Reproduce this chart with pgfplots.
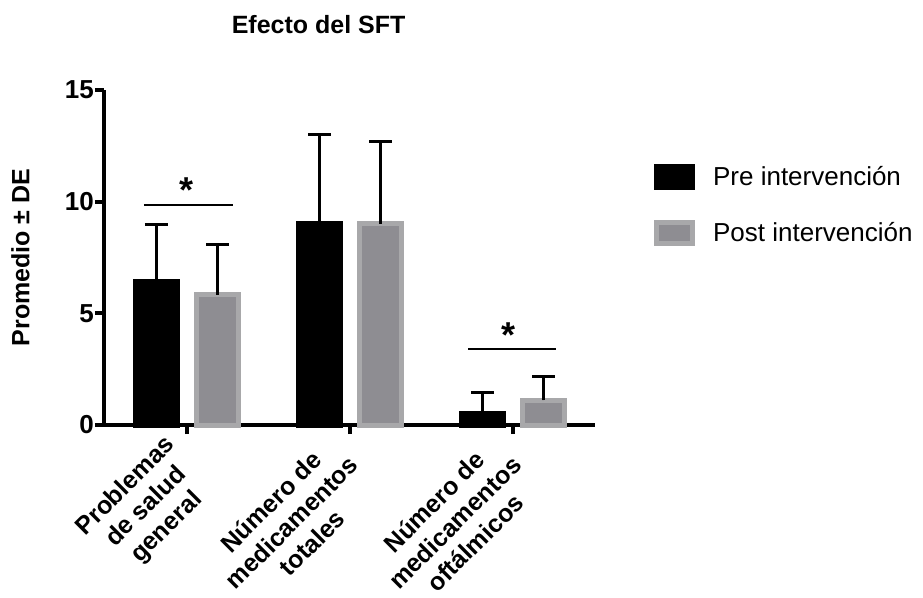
\documentclass[border=0pt]{standalone}
\usepackage{fontspec}
\setmainfont{Liberation Sans}
\usepackage{pgfplots}
\pgfplotsset{compat=1.18}
\definecolor{postfill}{RGB}{142,141,146}
\definecolor{postedge}{RGB}{168,168,170}
\newcommand{\bigfont}{\fontsize{25}{28}\selectfont}
\begin{document}
\begin{tikzpicture}
\useasboundingbox (0,0) rectangle (923pt,597pt);
\begin{axis}[
  at={(104pt,172pt)}, anchor=south west,
  scale only axis, width=491pt, height=335pt,
  xmin=-0.508, xmax=2.5, ymin=0, ymax=15,
  ybar=19.2pt, bar width=42pt,
  axis lines=left,
  axis line style={-, line width=4pt, black},
  clip=false,
  xtick={0,1,2},
  xticklabels={Problemas\\de salud\\general, Número de\\medicamentos\\totales, Número de\\medicamentos\\oftálmicos},
  ytick={0,5,10,15},
  tick align=outside,
  major tick length=9pt,
  tick style={line width=4pt, black},
  /pgf/number format/assume math mode=true,
  yticklabel style={font=\bfseries\fontsize{26}{28}\selectfont, inner sep=1pt},
  xticklabel style={font=\bfseries\fontsize{25}{29}\selectfont, xshift=-24pt, yshift=1pt, rotate=45, anchor=north east, align=center, inner sep=0pt},
  title={Efecto del SFT},
  title style={font=\bfseries\bigfont, at={(rel axis cs:0.437,1)}, anchor=base, yshift=50pt},
  ylabel={Promedio ± DE},
  ylabel style={font=\bfseries\bigfont, at={(rel axis cs:-0.152,0.5)}, anchor=base},
  legend style={at={(rel axis cs:1.12,0.78)}, anchor=north west, draw=none, fill=none,
    font=\fontsize{26}{29}\selectfont, row sep=30pt, inner sep=0pt, nodes={inner sep=2pt},
    /tikz/every odd column/.append style={column sep=16pt}},
  legend cell align=left,
  legend image code/.code={\draw[#1] (2.5pt,-10.5pt) rectangle (38.5pt,10.5pt);},
]
\addplot[fill=black, draw=black, line width=5pt,
  error bars/.cd, y dir=plus, y explicit,
  error bar style={line width=3pt, black},
  error mark options={rotate=90, line width=3pt, mark size=11.5pt, black}]
  coordinates {(0,6.42) +- (0,2.54) (1,9.03) +- (0,3.96) (2,0.52) +- (0,0.93)};
\addlegendentry{Pre intervención}
\addplot[fill=postfill, draw=postedge, line width=5pt,
  error bars/.cd, y dir=plus, y explicit,
  error bar style={line width=3pt, black},
  error mark options={rotate=90, line width=3pt, mark size=11.5pt, black}]
  coordinates {(0,5.83) +- (0,2.26) (1,9.0) +- (0,3.69) (2,1.1) +- (0,1.06)};
\addlegendentry{Post intervención}
\draw[line width=1.5pt] (axis cs:-0.263,9.85) -- (axis cs:0.281,9.85);
\draw[line width=1.5pt] (axis cs:1.723,3.4) -- (axis cs:2.263,3.4);
\node[font=\bfseries\fontsize{36}{36}\selectfont, anchor=north, inner sep=0pt] at (axis cs:0,11.06) {*};
\node[font=\bfseries\fontsize{36}{36}\selectfont, anchor=north, inner sep=0pt] at (axis cs:1.97,4.57) {*};
\end{axis}
\end{tikzpicture}
\end{document}
